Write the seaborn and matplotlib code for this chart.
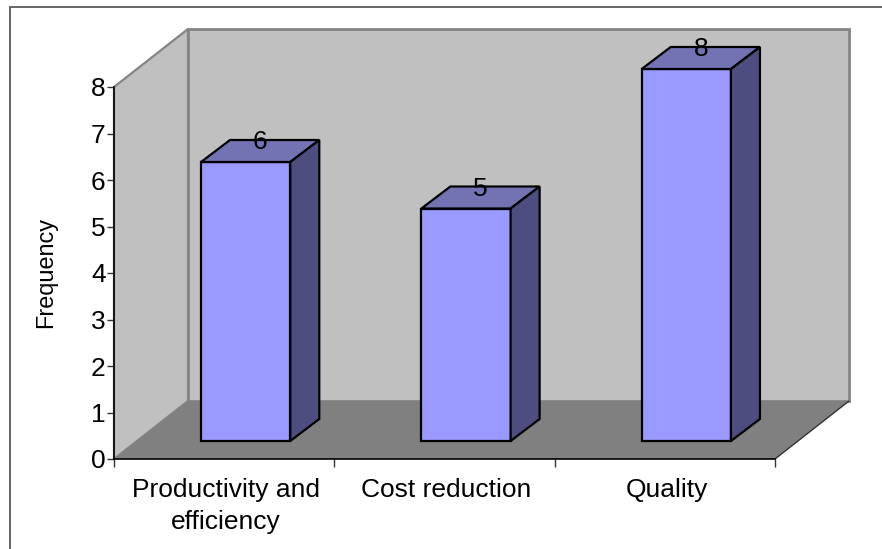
import matplotlib
matplotlib.use("Agg")
import matplotlib.pyplot as plt
from matplotlib.patches import Polygon, Rectangle
from matplotlib.ticker import FixedLocator
from matplotlib.transforms import ScaledTranslation
import pandas as pd
import seaborn as sns

# Survey tallies
categories = ["Productivity and\nefficiency", "Cost reduction", "Quality"]
frequency = [6, 5, 8]
y_ticks = [0, 1, 2, 3, 4, 5, 6, 7, 8]
y_label = "Frequency"

WALL = "#c0c0c0"
FLOOR = "#808080"
EDGE = "#858585"
BAR_FRONT = "#9999ff"
BAR_TOP = "#7373b3"
BAR_SIDE = "#4d4d80"

sns.set_theme(style="white")
plt.rcParams["font.family"] = ["Liberation Sans", "DejaVu Sans"]

W, H = 882, 549
fig = plt.figure(figsize=(W / 100, H / 100), dpi=100)
ax = fig.add_axes([114 / W, 1 - 459 / H, 661 / W, 372 / H])

df = pd.DataFrame({"category": categories, "frequency": frequency})

ax.set_xlim(-0.5, 2.5)
ax.set_ylim(0, 8)
px_x = 3 / 661      # data units per horizontal pixel
px_y = 8 / 372      # data units per vertical pixel

# Bars sit forward of the back wall, lifted off the front edge of the floor
lift = 18 * px_y
shift = 21.5 * px_x
sns.barplot(data=df, x="category", y="frequency", order=categories,
            width=0.405, color=BAR_FRONT, saturation=1, bottom=lift,
            edgecolor="black", linewidth=1.6, ax=ax, zorder=5, clip_on=False)
ax.set_xlim(-0.5, 2.5)
ax.set_ylim(0, 8)

# Room: floor, left wall and back wall, receding up and to the right
room_dx, room_dy = 74 * px_x, 58 * px_y
x0, x1 = ax.get_xlim()
y0, y1 = ax.get_ylim()
ax.add_patch(Polygon([(x0 + room_dx, y0 + room_dy), (x1 + room_dx, y0 + room_dy),
                      (x1 + room_dx, y1 + room_dy), (x0 + room_dx, y1 + room_dy)],
                     fc=WALL, ec=EDGE, lw=2, zorder=1, clip_on=False, joinstyle="miter"))
ax.add_patch(Polygon([(x0, y0), (x0 + room_dx, y0 + room_dy),
                      (x0 + room_dx, y1 + room_dy), (x0, y1)],
                     fc=WALL, ec=EDGE, lw=1.6, zorder=1.5, clip_on=False))
ax.add_patch(Polygon([(x0, y0), (x1, y0), (x1 + room_dx, y0 + room_dy),
                      (x0 + room_dx, y0 + room_dy)],
                     fc=FLOOR, ec="none", zorder=2, clip_on=False))
ax.plot([x1, x1 + room_dx], [y0, y0 + room_dy], color="#333333", lw=1,
        zorder=2.5, clip_on=False)

# Top and side faces of each bar, with the value above the back edge
bar_dx, bar_dy = 29 * px_x, 22 * px_y
for patch, value in zip(ax.patches[:len(frequency)], frequency):
    patch.set_x(patch.get_x() + shift)
    left = patch.get_x()
    right = left + patch.get_width()
    base = patch.get_y()
    top = base + patch.get_height()
    ax.add_patch(Polygon([(left, top), (right, top),
                          (right + bar_dx, top + bar_dy), (left + bar_dx, top + bar_dy)],
                         fc=BAR_TOP, ec="black", lw=1.6, zorder=6, clip_on=False))
    ax.add_patch(Polygon([(right, base), (right + bar_dx, base + bar_dy),
                          (right + bar_dx, top + bar_dy), (right, top)],
                         fc=BAR_SIDE, ec="black", lw=1.6, zorder=6, clip_on=False))
    ax.text((left + right) / 2 + bar_dx / 2, top + bar_dy - 2 * px_y, str(value),
            ha="center", va="center", fontsize=19, color="black", zorder=7)

# Axes: tick marks at the category boundaries, labels at their centres
for side in ("top", "right"):
    ax.spines[side].set_visible(False)
for side in ("left", "bottom"):
    ax.spines[side].set_visible(True)
    ax.spines[side].set_color("black")
    ax.spines[side].set_linewidth(1.2)
    ax.spines[side].set_zorder(4)
ax.set_yticks(y_ticks)
ax.xaxis.set_minor_locator(FixedLocator([-0.5, 0.5, 1.5, 2.5]))
ax.tick_params(axis="x", which="minor", bottom=True, length=6, width=1, color="#333333")
ax.tick_params(axis="x", which="major", bottom=False, pad=8, labelsize=19, labelcolor="black")
ax.tick_params(axis="y", left=True, length=5, width=1, color="#333333", pad=1, labelsize=19,
               labelcolor="black")
nudge = ScaledTranslation(2 / 100, 0, fig.dpi_scale_trans)
for label in ax.get_xticklabels():
    label.set_linespacing(1.4)
    label.set_transform(label.get_transform() + nudge)
ax.set_xlabel("")
ax.set_ylabel(y_label, fontsize=16.9, color="black")
ax.yaxis.set_label_coords((57 - 114) / 661, (459 - 272) / 372)

# Chart-area border, running off the top right and bottom left of the canvas
fig.add_artist(Rectangle((10 / W, -0.1), 1.2, 1.1 - 7 / H, transform=fig.transFigure,
                         fc="none", ec="#666666", lw=1.4))

fig.savefig("out.png", dpi=100, facecolor="white")
